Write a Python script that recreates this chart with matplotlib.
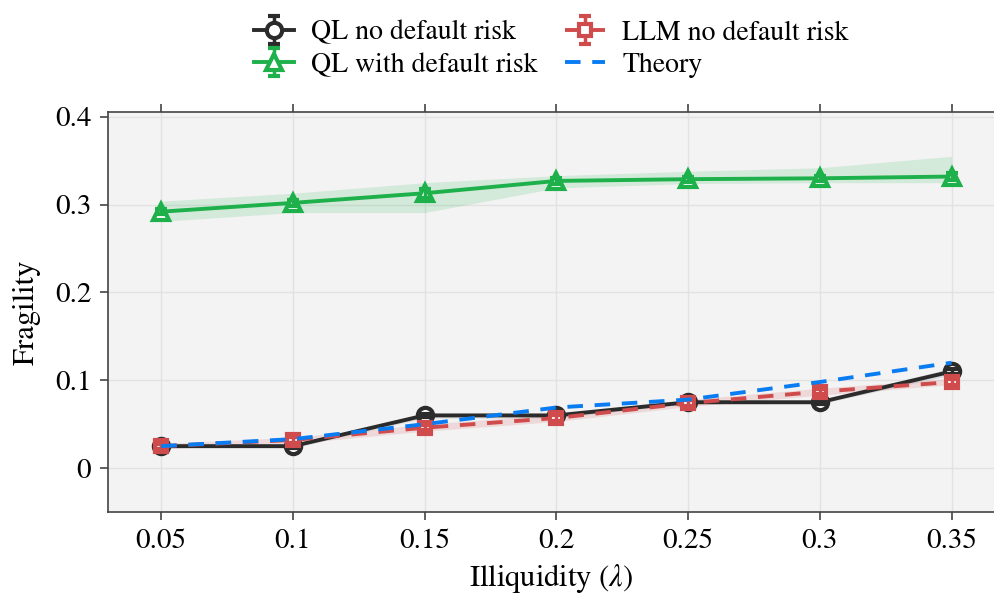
import matplotlib
matplotlib.use("Agg")
import matplotlib.pyplot as plt
import numpy as np

plt.rcParams["font.family"] = ["STIXGeneral", "DejaVu Serif"]
plt.rcParams["mathtext.fontset"] = "stix"

lam = [0.05, 0.1, 0.15, 0.2, 0.25, 0.3, 0.35]

# mean fragility, error bar half-widths and shaded band limits
ql_no = [0.025, 0.025, 0.060, 0.060, 0.075, 0.075, 0.110]
ql_no_err = [0.002, 0.002, 0.002, 0.002, 0.002, 0.002, 0.003]
ql_no_lo = [0.023, 0.023, 0.057, 0.057, 0.073, 0.073, 0.106]
ql_no_hi = [0.027, 0.027, 0.062, 0.062, 0.077, 0.077, 0.114]

ql_def = [0.292, 0.302, 0.313, 0.327, 0.329, 0.330, 0.332]
ql_def_err = [0.003, 0.003, 0.005, 0.003, 0.003, 0.003, 0.004]
ql_def_lo = [0.281, 0.291, 0.291, 0.319, 0.324, 0.325, 0.325]
ql_def_hi = [0.304, 0.313, 0.325, 0.333, 0.338, 0.342, 0.355]

llm_no = [0.025, 0.032, 0.046, 0.057, 0.074, 0.087, 0.098]
llm_no_err = [0.003, 0.003, 0.003, 0.003, 0.003, 0.003, 0.003]
llm_no_lo = [0.022, 0.028, 0.042, 0.053, 0.070, 0.083, 0.095]
llm_no_hi = [0.028, 0.035, 0.050, 0.061, 0.078, 0.091, 0.102]

theory = [0.025, 0.033, 0.050, 0.069, 0.078, 0.098, 0.120]

fig = plt.figure(figsize=(9.95, 6.05), dpi=100)
ax = fig.add_axes([108 / 995, 93 / 605, 887 / 995, 400 / 605])
ax.set_facecolor("#f3f3f3")
ax.grid(True, color="#e2e2e2", linewidth=1.0)
ax.set_axisbelow(True)

black = "#2b2b2b"
green = "#1db04b"
red = "#d04b4b"
blue = "#0a7cf2"

ax.fill_between(lam, ql_no_lo, ql_no_hi, color="#9a9a9a", alpha=0.25, lw=0)
ax.fill_between(lam, ql_def_lo, ql_def_hi, color=green, alpha=0.15, lw=0)
ax.fill_between(lam, llm_no_lo, llm_no_hi, color=red, alpha=0.15, lw=0)


def draw(y, err, color, marker, ms, ls, label, z):
    eb = ax.errorbar(lam, y, yerr=err, color=color, lw=2.8, ls=ls, marker=marker,
                     ms=ms, mfc="white", mec=color, mew=3, capsize=4, capthick=2.5,
                     elinewidth=2.5, label=label, zorder=z)
    # caps and bars sit on top of the hollow markers
    for c in eb[1]:
        c.set_zorder(z + 0.5)
    for c in eb[2]:
        c.set_zorder(z + 0.5)
    return eb


draw(ql_no, ql_no_err, black, "o", 11, "-", "QL no default risk", 4)
draw(ql_def, ql_def_err, green, "^", 11, "-", "QL with default risk", 4)
eb = draw(llm_no, llm_no_err, red, "s", 9, "--", "LLM no default risk", 5)
eb[0].set_dashes((4, 3))
ax.plot(lam, theory, color=blue, lw=2.8, ls="--", dashes=(4, 3),
        label="Theory", zorder=7)

ax.set_xlim(0.0298, 0.3665)
ax.set_ylim(-0.05, 0.4055)
ax.set_xticks(lam)
ax.set_xticklabels(["0.05", "0.1", "0.15", "0.2", "0.25", "0.3", "0.35"])
ax.set_yticks([0, 0.1, 0.2, 0.3, 0.4])
ax.set_yticklabels(["0", "0.1", "0.2", "0.3", "0.4"])
ax.tick_params(labelsize=21, length=6, width=1.2, color="#444444",
               top=True, direction="out", pad=6)
ax.spines["right"].set_visible(False)
for s in ["left", "bottom", "top"]:
    ax.spines[s].set_color("#444444")
    ax.spines[s].set_linewidth(1.2)

ax.set_xlabel(r"Illiquidity ($\lambda$)", fontsize=22, labelpad=6)
ax.set_ylabel("Fragility", fontsize=22, labelpad=10)

handles, labels = ax.get_legend_handles_labels()
order = [labels.index(n) for n in ["QL no default risk", "QL with default risk",
                                   "LLM no default risk", "Theory"]]
fig.legend([handles[i] for i in order], [labels[i] for i in order], ncol=2,
           loc="upper center", bbox_to_anchor=(0.554, 1.008), frameon=False,
           fontsize=20, handlelength=1.45, columnspacing=1.0,
           handletextpad=0.6, labelspacing=0.25)

fig.savefig("out.png", dpi=100)
